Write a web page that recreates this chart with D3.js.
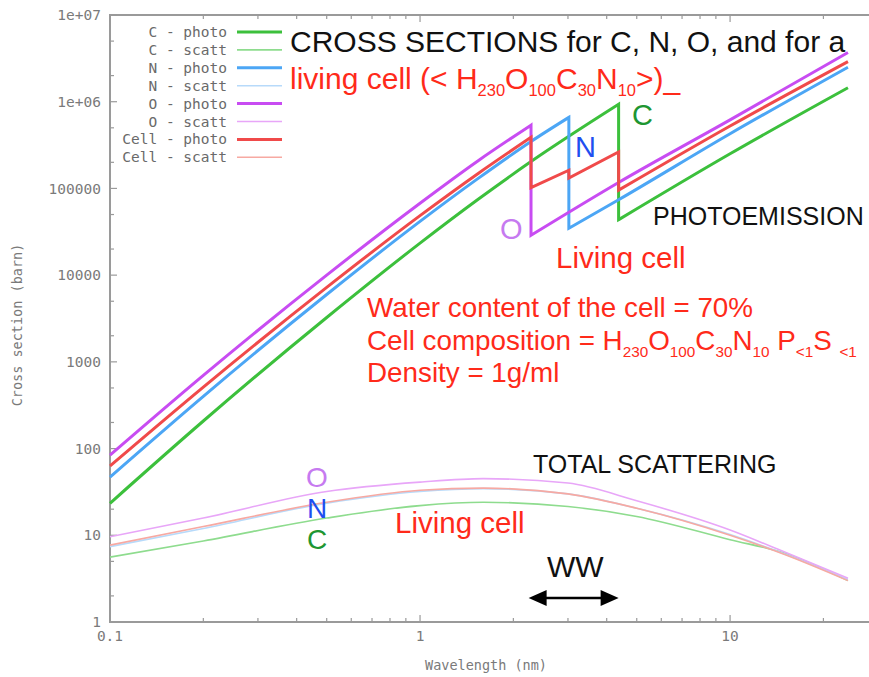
<!DOCTYPE html>
<html>
<head>
<meta charset="utf-8">
<script src="https://cdn.jsdelivr.net/npm/d3@7"></script>
<style>
  body { margin: 0; background: #fff; }
  svg { display: block; }
</style>
</head>
<body>
<div id="chart"></div>
<script>
const W = 869, H = 677;
const plot = {left: 110, top: 15, bottom: 622, right: 878};

// series: [wavelength (nm), cross section (barn)] -- an edge repeats the wavelength
const cPhoto = [[0.1,23.4],[0.2,208],[0.5,3250],[1,23400],[1.54,75000],[2.28,204000],[4.37,933000],[4.37,43600],[10,251000],[24,1450000]];
const nPhoto = [[0.1,47],[0.2,401],[0.5,5980],[1,41700],[1.54,130600],[2.28,348000],[3.02,660000],[3.02,34700],[4.37,74000],[10,427000],[24,2500000]];
const oPhoto = [[0.1,84],[0.2,698],[0.5,10000],[1,67600],[1.54,209000],[2.28,537000],[2.28,28800],[4.37,117000],[10,617000],[24,3700000]];
const cellPhoto = [[0.1,63],[0.2,512],[0.5,7230],[1,48600],[1.54,149000],[2.28,389000],[2.28,102000],[3.02,162000],[3.02,132000],[4.37,263000],[4.37,95500],[10,525000],[24,2900000]];

const cScatt = [[0.1,5.6],[0.2,8.6],[0.5,15.8],[1,22],[1.6,24],[3,21.5],[5,16.5],[10,8.9],[15,6.2],[24,3.0]];
const nScatt = [[0.1,7.4],[0.2,12.0],[0.5,23.5],[1,32],[1.6,34.5],[3,30],[5,20.5],[10,10.2],[15,6.1],[24,3.1]];
const oScatt = [[0.1,9.6],[0.2,15.8],[0.5,32],[1,41],[1.6,45],[3,40],[5,25],[10,11.5],[15,6.4],[24,3.2]];
const cellScatt = [[0.1,7.7],[0.2,12.6],[0.5,24],[1,33],[1.6,35],[3,30],[5,20.5],[10,10],[15,6.0],[24,3.0]];

const legendNames = ["C - photo","C - scatt","N - photo","N - scatt","O - photo","O - scatt","Cell - photo","Cell - scatt"];
const lineColors = ["#3cc03c","#8edc8e","#4ca6f5","#b7dafa","#c84cf2","#e8a6f8","#f04a4a","#f7a9a2"];
const yTickValues = [1,10,100,1000,10000,100000,1e6,1e7];
const yTickLabels = ["1","10","100","1000","10000","100000","1e+06","1e+07"];
const xTickValues = [0.1,1,10];
const xTickLabels = ["0.1","1","10"];
const wwRange = [2.24, 4.37];

const series = [
  {data: cPhoto, w: 3}, {data: cScatt, w: 1.6},
  {data: nPhoto, w: 3}, {data: nScatt, w: 1.6},
  {data: oPhoto, w: 3}, {data: oScatt, w: 1.6},
  {data: cellPhoto, w: 3}, {data: cellScatt, w: 1.6}
];

const svg = d3.select("#chart").append("svg")
  .attr("width", W).attr("height", H);

const x = d3.scaleLog().domain([0.1, 30]).range([plot.left, plot.right]);
const y = d3.scaleLog().domain([1, 1e7]).range([plot.bottom, plot.top]);

const axisCol = "#9a9a9a", labCol = "#7a7a7a";
const mono = "'DejaVu Sans Mono', 'Liberation Mono', monospace";
const sans = "'Liberation Sans', Arial, Helvetica, sans-serif";

// frame
svg.append("path")
  .attr("d", `M${plot.right},${plot.top}H${plot.left}V${plot.bottom}H${plot.right}`)
  .attr("fill", "none").attr("stroke", axisCol).attr("stroke-width", 2);

// x ticks (bottom + top mirror)
const xMinor = [];
[0.1, 1, 10].forEach(d => { for (let k = 2; k <= 9; k++) if (d*k <= 30) xMinor.push(d*k); });
const tg = svg.append("g").attr("stroke", axisCol).attr("stroke-width", 1.2);
xTickValues.forEach(v => {
  tg.append("line").attr("x1", x(v)).attr("x2", x(v)).attr("y1", plot.bottom).attr("y2", plot.bottom - 7);
  tg.append("line").attr("x1", x(v)).attr("x2", x(v)).attr("y1", plot.top).attr("y2", plot.top + 7);
});
xMinor.forEach(v => {
  tg.append("line").attr("x1", x(v)).attr("x2", x(v)).attr("y1", plot.bottom).attr("y2", plot.bottom - 4);
  tg.append("line").attr("x1", x(v)).attr("x2", x(v)).attr("y1", plot.top).attr("y2", plot.top + 4);
});
// y ticks
yTickValues.forEach(v => {
  tg.append("line").attr("x1", plot.left).attr("x2", plot.left + 7).attr("y1", y(v)).attr("y2", y(v));
});
yTickValues.slice(0, -1).forEach(v => {
  [2, 5].forEach(k => tg.append("line").attr("x1", plot.left).attr("x2", plot.left + 4).attr("y1", y(v*k)).attr("y2", y(v*k)));
});

// tick labels
svg.append("g").selectAll("text").data(yTickValues).join("text")
  .attr("x", 101).attr("y", d => y(d)).attr("dy", "0.35em")
  .attr("text-anchor", "end").attr("font-family", mono).attr("font-size", 14.5)
  .attr("fill", labCol).text((d, i) => yTickLabels[i]);
svg.append("g").selectAll("text").data(xTickValues).join("text")
  .attr("x", d => x(d)).attr("y", 641)
  .attr("text-anchor", "middle").attr("font-family", mono).attr("font-size", 14.5)
  .attr("fill", labCol).text((d, i) => xTickLabels[i]);

// axis titles
svg.append("text").attr("x", 486).attr("y", 670).attr("text-anchor", "middle")
  .attr("font-family", mono).attr("font-size", 13.5).attr("fill", labCol)
  .text("Wavelength (nm)");
svg.append("text").attr("transform", "translate(22,325) rotate(-90)").attr("text-anchor", "middle")
  .attr("font-family", mono).attr("font-size", 13.5).attr("fill", labCol)
  .text("Cross section (barn)");

// curves
const smooth = d3.line().x(d => x(d[0])).y(d => y(d[1])).curve(d3.curveMonotoneX);

// split a photo series at its absorption edges (repeated wavelength) and join the pieces with the vertical drop
function edgePath(data) {
  const pieces = [[data[0]]];
  for (let i = 1; i < data.length; i++) {
    if (data[i][0] === data[i-1][0]) pieces.push([data[i]]);
    else pieces[pieces.length - 1].push(data[i]);
  }
  return pieces.map((p, i) => {
    const d = smooth(p);
    return i === 0 ? d : "L" + d.slice(1);
  }).join("");
}

const cg = svg.append("g").attr("fill", "none");
// draw scatt first, photo on top
[1,3,5,7,0,2,4,6].forEach(i => {
  cg.append("path")
    .attr("d", i % 2 ? smooth(series[i].data) : edgePath(series[i].data))
    .attr("stroke", lineColors[i])
    .attr("stroke-width", series[i].w)
    .attr("stroke-linejoin", "miter");
});

// legend
const lg = svg.append("g");
legendNames.forEach((name, i) => {
  const ly = 32 + i * 17.9;
  lg.append("text").attr("x", 227).attr("y", ly).attr("dy", "0.35em")
    .attr("text-anchor", "end").attr("font-family", mono).attr("font-size", 14.5)
    .attr("fill", "#6a6a6a").text(name);
  lg.append("line").attr("x1", 237).attr("x2", 282).attr("y1", ly).attr("y2", ly)
    .attr("stroke", lineColors[i]).attr("stroke-width", series[i].w);
});

// annotations
function richText(px, py, size, color, parts) {
  const t = svg.append("text").attr("x", px).attr("y", py)
    .attr("font-family", sans).attr("font-size", size).attr("fill", color);
  let shifted = false;
  parts.forEach(p => {
    const sub = Array.isArray(p);
    const s = t.append("tspan").text(sub ? p[0] : p);
    if (sub && !shifted) { s.attr("dy", size * 0.24).attr("font-size", size * 0.55); shifted = true; }
    else if (sub) { s.attr("font-size", size * 0.55); }
    else if (shifted) { s.attr("dy", -size * 0.24); shifted = false; }
  });
  return t;
}

svg.append("text").attr("x", 290).attr("y", 52).attr("font-family", sans)
  .attr("font-size", 30).attr("fill", "#111").text("CROSS SECTIONS for C, N, O, and for a");
richText(290, 89, 30, "#ff2a1a", ["living cell (< H", ["230"], "O", ["100"], "C", ["30"], "N", ["10"], ">)_"]);

const red = "#ff2a1a";
svg.append("text").attr("x", 632).attr("y", 125).attr("font-family", sans).attr("font-size", 29).attr("fill", "#1e9632").text("C");
svg.append("text").attr("x", 575).attr("y", 157).attr("font-family", sans).attr("font-size", 29).attr("fill", "#1f4ff0").text("N");
svg.append("text").attr("x", 500).attr("y", 239).attr("font-family", sans).attr("font-size", 29).attr("fill", "#c67af0").text("O");
svg.append("text").attr("x", 653).attr("y", 225).attr("font-family", sans).attr("font-size", 25).attr("fill", "#111").text("PHOTOEMISSION");
svg.append("text").attr("x", 556).attr("y", 268).attr("font-family", sans).attr("font-size", 29.5).attr("fill", red).text("Living cell");

svg.append("text").attr("x", 367).attr("y", 317).attr("font-family", sans).attr("font-size", 27.8).attr("fill", red).text("Water content of the cell = 70%");
richText(367, 350, 27.8, red, ["Cell composition = H", ["230"], "O", ["100"], "C", ["30"], "N", ["10"], " P", ["<1"], "S ", ["<1"]]);
svg.append("text").attr("x", 367).attr("y", 382).attr("font-family", sans).attr("font-size", 27.8).attr("fill", red).text("Density = 1g/ml");

svg.append("text").attr("x", 533).attr("y", 473).attr("font-family", sans).attr("font-size", 25).attr("fill", "#111").text("TOTAL SCATTERING");
svg.append("text").attr("x", 317).attr("y", 487).attr("text-anchor", "middle").attr("font-family", sans).attr("font-size", 28).attr("fill", "#c67af0").text("O");
svg.append("text").attr("x", 317).attr("y", 518).attr("text-anchor", "middle").attr("font-family", sans).attr("font-size", 28).attr("fill", "#1f4ff0").text("N");
svg.append("text").attr("x", 317).attr("y", 549).attr("text-anchor", "middle").attr("font-family", sans).attr("font-size", 28).attr("fill", "#1e9632").text("C");
svg.append("text").attr("x", 395).attr("y", 533).attr("font-family", sans).attr("font-size", 29.5).attr("fill", red).text("Living cell");

// water window
svg.append("text").attr("x", 547).attr("y", 577).attr("font-family", sans).attr("font-size", 30).attr("fill", "#111").text("WW");
const ay = 598, a0 = x(wwRange[0]), a1 = x(wwRange[1]);
svg.append("line").attr("x1", a0 + 10).attr("x2", a1 - 10).attr("y1", ay).attr("y2", ay)
  .attr("stroke", "#000").attr("stroke-width", 2.5);
svg.append("path").attr("d", `M${a0},${ay}L${a0 + 18},${ay - 8}L${a0 + 18},${ay + 8}Z`).attr("fill", "#000");
svg.append("path").attr("d", `M${a1},${ay}L${a1 - 18},${ay - 8}L${a1 - 18},${ay + 8}Z`).attr("fill", "#000");
</script>
</body>
</html>
